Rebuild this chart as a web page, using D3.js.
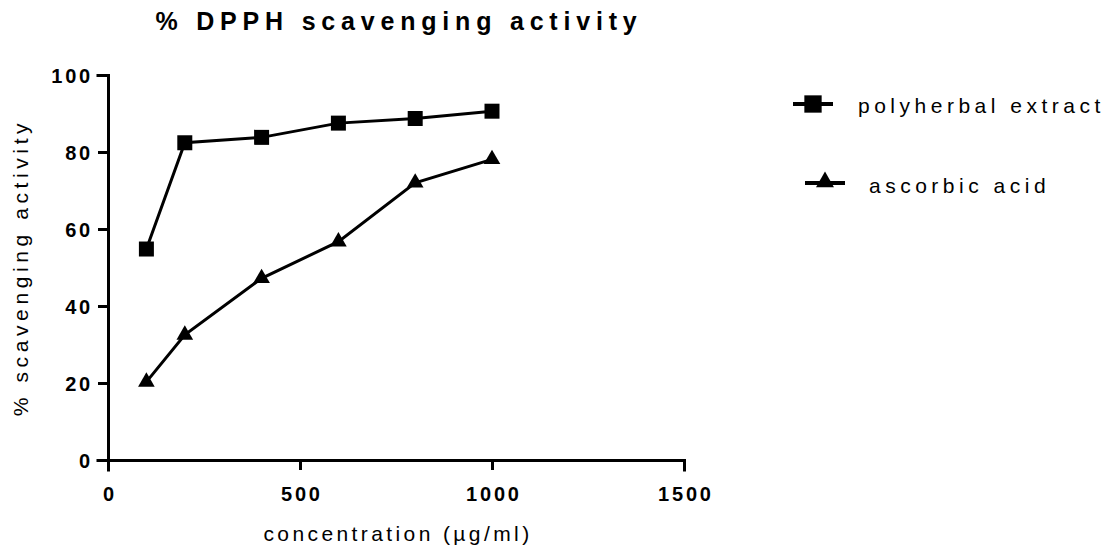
<!DOCTYPE html>
<html>
<head>
<meta charset="utf-8">
<script src="https://cdn.jsdelivr.net/npm/d3@7"></script>
<style>
  body { margin: 0; background: #fff; }
  text { font-family: "Liberation Sans", Arial, sans-serif; fill: #000; }
</style>
</head>
<body>
<div id="chart"></div>
<script>
const concentration = [100, 200, 400, 600, 800, 1000];
const polyherbal = [54.8, 82.4, 83.8, 87.5, 88.7, 90.6];
const ascorbic = [20.3, 32.5, 47.2, 56.7, 72.0, 78.1];
const xTicks = [0, 500, 1000, 1500];
const yTicks = [0, 20, 40, 60, 80, 100];
const seriesNames = ['polyherbal extract', 'ascorbic acid'];

const w = 1108;
const h = 552;
const margin = { top: 75, left: 108, right: 424, bottom: 92 };

const svg = d3.select('#chart').append('svg').attr('width', w).attr('height', h);

const x = d3.scaleLinear().domain([0, 1500]).range([margin.left, w - margin.right]);
const y = d3.scaleLinear().domain([0, 100]).range([h - margin.bottom, margin.top]);

// axes
const xAxis = svg.append('g')
  .attr('transform', `translate(0,${y(0)})`)
  .call(d3.axisBottom(x).tickValues(xTicks).tickSize(10).tickPadding(17).tickFormat(d3.format('d')));
const yAxis = svg.append('g')
  .attr('transform', `translate(${x(0)},0)`)
  .call(d3.axisLeft(y).tickValues(yTicks).tickSize(10).tickPadding(5));

[xAxis, yAxis].forEach(a => {
  a.select('.domain').attr('stroke', '#000').attr('stroke-width', 3).attr('stroke-linecap', 'square');
  a.selectAll('.tick line').attr('stroke', '#000').attr('stroke-width', 3);
  a.selectAll('.tick text')
    .attr('font-size', 20)
    .attr('font-weight', 'bold')
    .attr('letter-spacing', '2.8px')
    .style('font-family', '"Liberation Sans", Arial, sans-serif');
});
xAxis.selectAll('.tick text').attr('dx', '1.4px');
yAxis.selectAll('.tick text').attr('dy', '0.35em');

// title and axis labels
svg.append('text')
  .attr('x', (x(0) + x(1500)) / 2 + 3)
  .attr('y', 30)
  .attr('text-anchor', 'middle')
  .attr('font-size', 25)
  .attr('font-weight', 'bold')
  .attr('letter-spacing', '5.8px')
  .text('% DPPH scavenging activity');

svg.append('text')
  .attr('x', (x(0) + x(1500)) / 2 + 2)
  .attr('y', 541)
  .attr('text-anchor', 'middle')
  .attr('font-size', 21)
  .attr('letter-spacing', '3.4px')
  .text('concentration (µg/ml)');

svg.append('text')
  .attr('transform', `translate(28,${(y(0) + y(100)) / 2}) rotate(-90)`)
  .attr('text-anchor', 'middle')
  .attr('font-size', 21)
  .attr('letter-spacing', '4.6px')
  .text('% scavenging activity');

// lines
const line = d3.line().x(d => x(d[0])).y(d => y(d[1]));
const series = [
  { name: seriesNames[0], values: d3.zip(concentration, polyherbal), symbol: d3.symbolSquare, size: 225 },
  { name: seriesNames[1], values: d3.zip(concentration, ascorbic), symbol: d3.symbolTriangle, size: 120 }
];

series.forEach(s => {
  svg.append('path')
    .datum(s.values)
    .attr('fill', 'none')
    .attr('stroke', '#000')
    .attr('stroke-width', 3)
    .attr('d', line);
  svg.selectAll(null)
    .data(s.values)
    .enter()
    .append('path')
    .attr('transform', d => `translate(${x(d[0])},${y(d[1])})`)
    .attr('d', d3.symbol().type(s.symbol).size(s.size))
    .attr('fill', '#000');
});

// legend
const legendPos = [{ x: 793, y: 104, ty: 113, tx: 858 }, { x: 805, y: 183, ty: 193, tx: 869 }];
series.forEach((s, i) => {
  const p = legendPos[i];
  const g = svg.append('g');
  g.append('line')
    .attr('x1', p.x).attr('x2', p.x + 40)
    .attr('y1', p.y).attr('y2', p.y)
    .attr('stroke', '#000').attr('stroke-width', 4);
  g.append('path')
    .attr('transform', `translate(${p.x + 20},${p.y + (i === 1 ? -1 : 0)})`)
    .attr('d', d3.symbol().type(s.symbol).size(i === 0 ? 300 : 140))
    .attr('fill', '#000');
  g.append('text')
    .attr('x', p.tx)
    .attr('y', p.ty)
    .attr('font-size', 21)
    .attr('letter-spacing', '4.5px')
    .text(s.name);
});
</script>
</body>
</html>
